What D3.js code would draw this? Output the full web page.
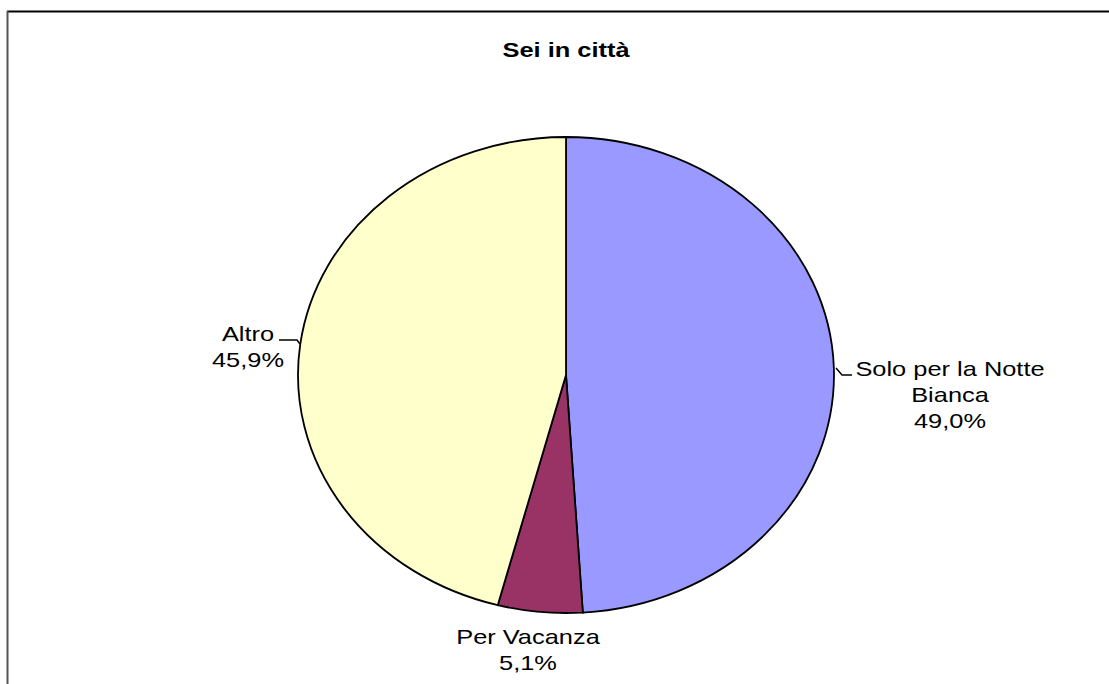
<!DOCTYPE html>
<html lang="it">
<head>
  <meta charset="utf-8">
  <title>Sei in città</title>
  <style>
    html,body { margin:0; padding:0; overflow:hidden; background:#fff; }
    svg { display:block; }
    text { font-family: "Liberation Sans", Arial, sans-serif; fill:#000; }
  </style>
  <script src="https://d3js.org/d3.v7.min.js"></script>
</head>
<body>
  <svg></svg>
  <script>
  // data
  const title = "Sei in città";
  const categories = ["Solo per la Notte Bianca", "Per Vacanza", "Altro"];
  const values = [49.0, 5.1, 45.9];
  const labelLines = [["Solo per la Notte", "Bianca"], ["Per Vacanza"], ["Altro"]];
  const colors = ["#9999FF", "#993366", "#FFFFCC"];

  const width = 1109, height = 684;
  const cx = 566, cy = 375, r = 238, stretch = 1.126;
  const textStretch = 1.21;

  // label anchors (centre x, first baseline) and leader paths, relative to pie centre
  const labelLayout = [
    { x: 384, y: 1,   leader: [[270, -7], [276, 0], [286, 0]] },
    { x: -38, y: 269, leader: null },
    { x: -318, y: -34, leader: [[-287, -35], [-269, -35], [-266, -31]] }
  ];

  const svg = d3.select("svg").attr("width", width).attr("height", height);

  // frame
  svg.append("line").attr("x1", 7).attr("x2", width).attr("y1", 11.5).attr("y2", 11.5)
    .attr("stroke", "#000").attr("stroke-width", 2);
  svg.append("line").attr("x1", 7.5).attr("x2", 7.5).attr("y1", 11).attr("y2", height)
    .attr("stroke", "#555").attr("stroke-width", 2);

  svg.append("text")
    .attr("transform", `translate(${cx},57) scale(${textStretch},1)`)
    .attr("text-anchor", "middle")
    .attr("font-size", 21).attr("font-weight", "bold")
    .text(title);

  const pie = d3.pie().sort(null).value(d => d)(values);
  const arc = d3.arc().innerRadius(0).outerRadius(r);

  svg.append("g")
      .attr("transform", `translate(${cx},${cy}) scale(${stretch},1)`)
    .selectAll("path")
    .data(pie)
    .join("path")
      .attr("d", arc)
      .attr("fill", (d, i) => colors[i])
      .attr("stroke", "#000")
      .attr("stroke-width", 1.8)
      .attr("vector-effect", "non-scaling-stroke");

  const fmt = v => v.toFixed(1).replace(".", ",") + "%";

  const labels = svg.append("g").attr("transform", `translate(${cx},${cy})`);
  categories.forEach((c, i) => {
    const L = labelLayout[i];
    if (L.leader) {
      labels.append("path")
        .attr("d", d3.line()(L.leader))
        .attr("fill", "none").attr("stroke", "#000").attr("stroke-width", 1.5);
    }
    const lines = labelLines[i].concat([fmt(values[i])]);
    const t = labels.append("text")
      .attr("transform", `translate(${L.x},${L.y}) scale(${textStretch},1)`)
      .attr("text-anchor", "middle")
      .attr("font-size", 21);
    lines.forEach((s, k) => t.append("tspan").attr("x", 0).attr("y", k * 26).text(s));
  });
  </script>
</body>
</html>
